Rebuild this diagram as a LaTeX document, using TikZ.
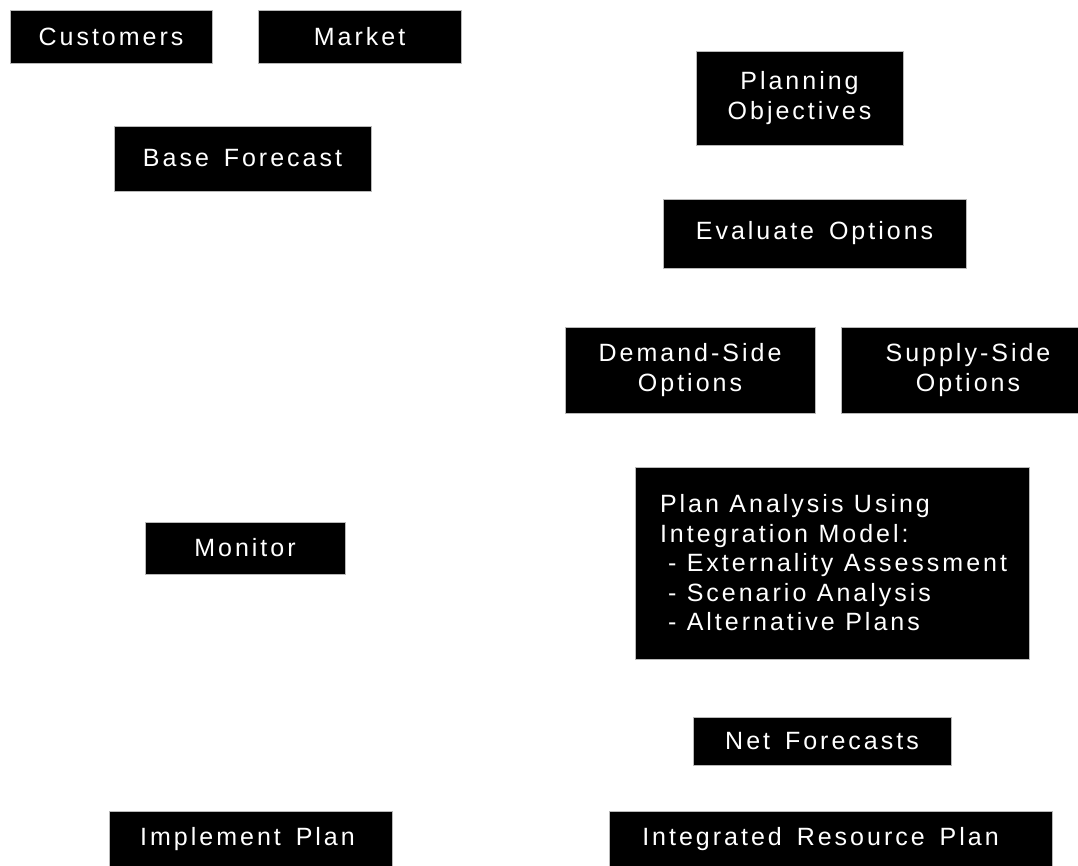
\documentclass[tikz,border=0pt]{standalone}
\usepackage{fontspec}
\setmainfont{Liberation Sans}[LetterSpace=12, WordSpace=1.5]
\begin{document}
\begin{tikzpicture}[x=1pt,y=-1pt,
  box/.style={draw=gray!55, line width=0.8pt, fill=black, text=white,
    inner sep=0pt, outer sep=0pt, anchor=north west, align=center,
    font=\fontsize{25}{29.5}\selectfont}]
\useasboundingbox (0,0) rectangle (1078,865);
\node[box, minimum width=202pt, minimum height=53pt] (cust) at (10,10) {Customers};
\node[box, minimum width=203pt, minimum height=53pt] (mkt) at (258,10) {Market};
\node[box, minimum width=257pt, minimum height=65pt] (base) at (114,126) {Base Forecast};
\node[box, minimum width=207pt, minimum height=94pt] (plan) at (696,51) {Planning\\Objectives};
\node[box, minimum width=303pt, minimum height=69pt] (eval) at (663,199) {Evaluate Options};
\node[box, minimum width=250pt, minimum height=86pt] (dem) at (565,327) {Demand-Side\\Options};
\node[box, minimum width=240pt, minimum height=86pt] (sup) at (841,327) {\hspace*{14pt}Supply-Side\\\hspace*{14pt}Options};
\node[box, minimum width=394pt, minimum height=192pt, text width=344pt, align=left] (pa) at (635,467)
  {\spaceskip=0.417em\relax Plan Analysis Using\\Integration Model:\\\hspace*{8pt}- Externality Assessment\\\hspace*{8pt}- Scenario Analysis\\\hspace*{8pt}- Alternative Plans};
\node[box, minimum width=200pt, minimum height=52pt] (mon) at (145,522) {Monitor};
\node[box, minimum width=258pt, minimum height=48pt] (net) at (693,717) {Net Forecasts};
\node[box, minimum width=283pt, minimum height=56pt] (impl) at (109,811) {\hspace*{-6pt}Implement Plan};
\node[box, minimum width=443pt, minimum height=56pt] (irp) at (609,811) {\hspace*{-20pt}Integrated Resource Plan};
\end{tikzpicture}
\end{document}
